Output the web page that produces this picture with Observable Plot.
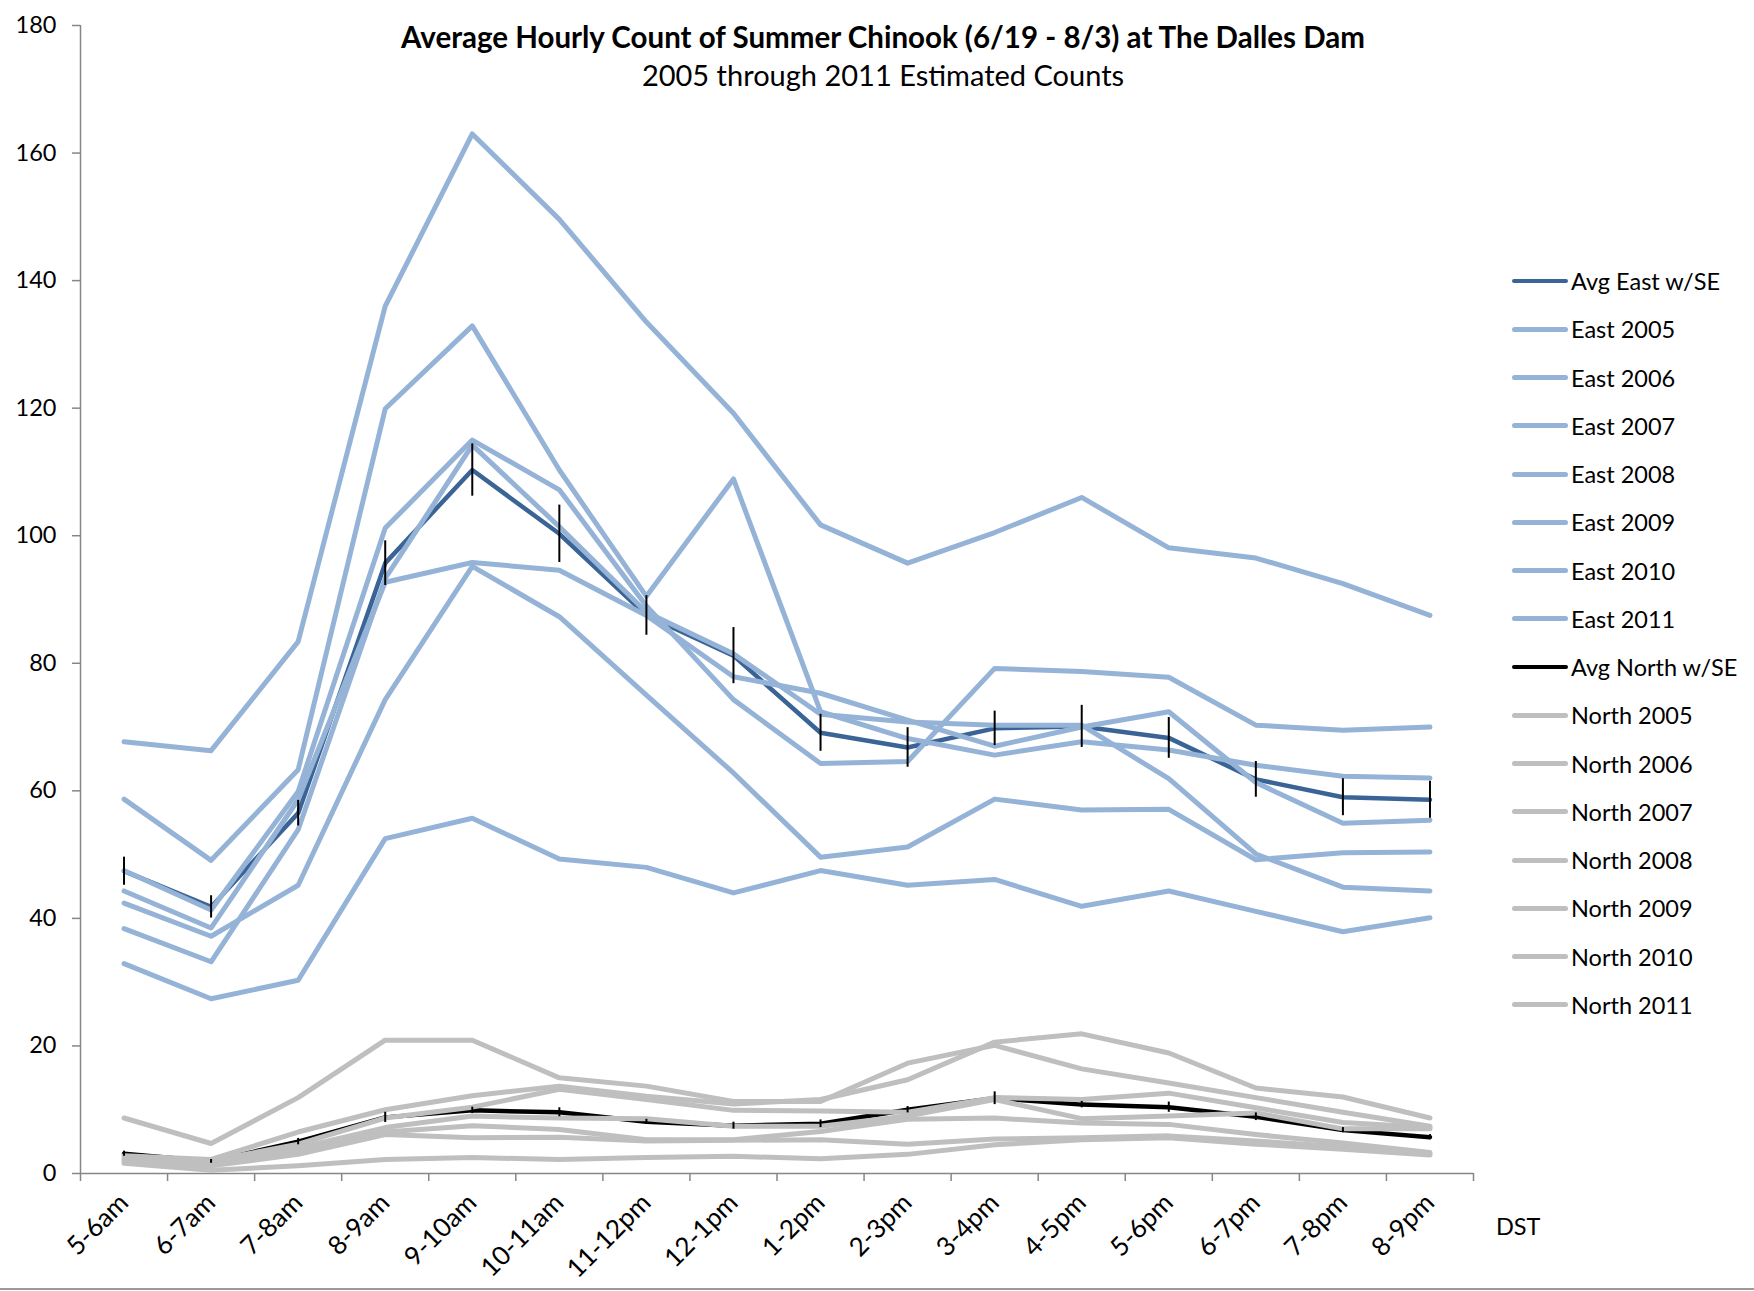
<!DOCTYPE html>
<html>
<head>
<meta charset="utf-8">
<script src="https://cdn.jsdelivr.net/npm/d3@7"></script>
<script src="https://cdn.jsdelivr.net/npm/@observablehq/plot@0.6"></script>
<style>
  html, body { margin: 0; padding: 0; background: #fff; }
  #wrap { position: relative; width: 1754px; height: 1291px; overflow: hidden; font-family: Lato, "Open Sans", sans-serif; }
  #title { position: absolute; left: 0; width: 1766px; top: 20px; text-align: center; font-weight: 700; font-size: 29.5px; line-height: 34px; color: #000; }
  #subtitle { position: absolute; left: 0; width: 1766px; top: 58px; text-align: center; font-weight: 400; font-size: 29px; line-height: 34px; color: #000; }
  #legend { position: absolute; left: 1512px; top: 0; }
  .lg { position: absolute; left: 0; height: 30px; width: 240px; }
  .lg .sw { position: absolute; left: 0; width: 56px; border-radius: 3px; }
  .lg .tx { position: absolute; left: 59px; top: 0; line-height: 30px; font-size: 23.5px; white-space: nowrap; color: #000; }
  #dst { position: absolute; left: 1496px; top: 1211px; font-size: 23.5px; line-height: 30px; }
  #bottomline { position: absolute; left: 0; top: 1288px; width: 1754px; height: 2px; background: #9a9a9a; }
</style>
</head>
<body>
<div id="wrap">
  <div id="chart"></div>
  <div id="title">Average Hourly Count of Summer Chinook (6/19 - 8/3) at The Dalles Dam</div>
  <div id="subtitle">2005 through 2011 Estimated Counts</div>
  <div id="legend"></div>
  <div id="dst">DST</div>
  <div id="bottomline"></div>
</div>
<script>
// ---------- data ----------
const hours = ["5-6am","6-7am","7-8am","8-9am","9-10am","10-11am","11-12pm","12-1pm","1-2pm","2-3pm","3-4pm","4-5pm","5-6pm","6-7pm","7-8pm","8-9pm"];
const yTicks = [0, 20, 40, 60, 80, 100, 120, 140, 160, 180];

const avgEast = [47.4, 41.8, 56.5, 95.7, 110.3, 100.3, 87.5, 81.2, 69.1, 66.8, 69.8, 70.1, 68.3, 61.8, 59.0, 58.6];
const seEast  = [2.2, 1.75, 2.0, 3.5, 4.1, 4.5, 3.1, 4.4, 2.9, 3.1, 2.7, 3.3, 3.2, 2.8, 2.9, 2.9];
const east2005 = [67.7, 66.3, 83.4, 136.0, 163.0, 149.6, 133.5, 119.2, 101.7, 95.7, 100.5, 106.0, 98.1, 96.5, 92.5, 87.5];
const east2006 = [58.7, 49.1, 63.3, 119.9, 132.9, 110.3, 90.5, 108.9, 72.4, 68.2, 65.6, 67.7, 66.4, 64.0, 62.3, 62.0];
const east2007 = [47.5, 41.3, 59.9, 101.2, 115.0, 107.2, 89.0, 74.3, 64.3, 64.6, 79.2, 78.7, 77.8, 70.3, 69.5, 70.0];
const east2008 = [38.4, 33.2, 53.9, 93.3, 114.2, 101.4, 88.0, 81.5, 72.0, 70.8, 70.3, 70.3, 61.9, 50.1, 44.9, 44.3];
const east2009 = [44.3, 38.5, 58.6, 92.7, 95.8, 94.6, 87.5, 77.9, 75.3, 71.1, 67.0, 70.0, 72.4, 61.3, 54.9, 55.4];
const east2010 = [42.4, 37.2, 45.2, 74.3, 95.2, 87.3, 75.0, 62.8, 49.6, 51.2, 58.7, 57.0, 57.1, 49.2, 50.3, 50.4];
const east2011 = [32.9, 27.4, 30.3, 52.5, 55.7, 49.3, 48.0, 44.0, 47.5, 45.2, 46.1, 41.9, 44.3, 41.1, 37.9, 40.1];

const avgNorth = [3.1, 1.9, 5.0, 8.8, 9.9, 9.6, 8.1, 7.5, 7.8, 10.0, 11.8, 10.8, 10.4, 8.9, 6.8, 5.7];
const seNorth  = [0.4, 0.3, 0.5, 0.8, 0.5, 0.7, 0.4, 0.55, 0.6, 0.5, 1.0, 0.5, 0.8, 0.6, 0.4, 0.4];
const north2005 = [8.7, 4.7, 11.9, 20.9, 20.9, 15.0, 13.7, 11.3, 11.3, 17.3, 20.1, 16.4, 14.2, 11.9, 9.6, 7.4];
const north2006 = [2.8, 2.2, 6.5, 10.0, 12.2, 13.7, 12.1, 10.9, 11.6, 14.7, 20.6, 21.9, 18.9, 13.4, 12.0, 8.7];
const north2007 = [2.5, 2.0, 4.6, 8.7, 10.4, 13.2, 11.6, 9.9, 9.8, 9.6, 11.9, 11.6, 12.6, 10.3, 8.0, 7.2];
const north2008 = [2.2, 1.8, 4.0, 7.2, 9.0, 8.7, 8.6, 7.4, 7.4, 9.0, 11.6, 8.6, 9.0, 9.5, 7.0, 7.0];
const north2009 = [2.0, 1.5, 3.5, 6.5, 7.5, 6.9, 5.3, 5.3, 6.6, 8.5, 8.7, 7.9, 7.7, 6.1, 4.8, 3.3];
const north2010 = [1.8, 1.2, 3.0, 6.1, 5.6, 5.7, 5.1, 5.2, 5.3, 4.6, 5.4, 5.6, 5.9, 5.1, 4.2, 3.1];
const north2011 = [1.6, 0.5, 1.2, 2.2, 2.5, 2.2, 2.5, 2.7, 2.3, 3.0, 4.5, 5.3, 5.6, 4.6, 3.8, 2.9];

const eastNames = ["East 2005","East 2006","East 2007","East 2008","East 2009","East 2010","East 2011"];
const eastSeries = [east2005, east2006, east2007, east2008, east2009, east2010, east2011];
const northNames = ["North 2005","North 2006","North 2007","North 2008","North 2009","North 2010","North 2011"];
const northSeries = [north2005, north2006, north2007, north2008, north2009, north2010, north2011];

// ---------- styles ----------
const C_AVG_EAST = "#3A6496";
const C_EAST = "#95B3D7";
const C_AVG_NORTH = "#000000";
const C_NORTH = "#BFBFBF";
const C_AXIS = "#868686";

// ---------- tables ----------
const toRows = (name, arr, se) => arr.map((v, i) => ({series: name, i, v, se: se ? se[i] : 0}));
const avgEastRows = toRows("Avg East w/SE", avgEast, seEast);
const eastRows = eastSeries.flatMap((a, k) => toRows(eastNames[k], a));
const avgNorthRows = toRows("Avg North w/SE", avgNorth, seNorth);
const northRows = northSeries.flatMap((a, k) => toRows(northNames[k], a));

const xDomain = [-0.5, hours.length - 0.5];
const boundaries = d3.range(hours.length + 1).map(k => k - 0.5);
const centers = d3.range(hours.length);

const lineOpts = {x: "i", y: "v", z: "series", strokeLinejoin: "round", strokeLinecap: "round"};

const chart = Plot.plot({
  width: 1754,
  height: 1291,
  marginLeft: 80,
  marginRight: 281,
  marginTop: 25,
  marginBottom: 118,
  style: {fontFamily: "Lato, 'Open Sans', sans-serif", fontSize: "23.5px", color: "#000", background: "transparent"},
  x: {type: "linear", domain: xDomain},
  y: {domain: [0, 180]},
  marks: [
    // axes
    Plot.axisY({ticks: yTicks, tickSize: 8, tickPadding: 16, stroke: C_AXIS, strokeWidth: 1.5, fill: "#000", label: null}),
    Plot.axisX({ticks: boundaries, tickSize: 8, tickFormat: () => "", stroke: C_AXIS, strokeWidth: 1.5, label: null}),
    Plot.axisX({ticks: centers, tickSize: 0, tickPadding: 25, tickRotate: -45, fontSize: 26, tickFormat: i => hours[i], fill: "#000", label: null}),
    Plot.ruleX([xDomain[0]], {stroke: C_AXIS, strokeWidth: 1.5}),
    Plot.ruleY([yTicks[0]], {stroke: C_AXIS, strokeWidth: 1.5}),
    // series (drawn in spreadsheet order)
    Plot.line(avgEastRows, {...lineOpts, stroke: C_AVG_EAST, strokeWidth: 4.5}),
    Plot.line(eastRows, {...lineOpts, stroke: C_EAST, strokeWidth: 5}),
    Plot.line(avgNorthRows, {...lineOpts, stroke: C_AVG_NORTH, strokeWidth: 4.5}),
    Plot.line(northRows, {...lineOpts, stroke: C_NORTH, strokeWidth: 5}),
    // error bars
    Plot.ruleX(avgEastRows, {x: "i", y1: d => d.v - d.se, y2: d => d.v + d.se, stroke: "#000", strokeWidth: 2}),
    Plot.ruleX(avgNorthRows, {x: "i", y1: d => d.v - d.se, y2: d => d.v + d.se, stroke: "#000", strokeWidth: 2})
  ]
});
document.getElementById("chart").appendChild(chart);

// ---------- legend ----------
const legendItems = [
  {name: "Avg East w/SE", color: C_AVG_EAST, w: 4},
  ...eastNames.map(n => ({name: n, color: C_EAST, w: 5})),
  {name: "Avg North w/SE", color: C_AVG_NORTH, w: 4},
  ...northNames.map(n => ({name: n, color: C_NORTH, w: 5}))
];
const legend = document.getElementById("legend");
legendItems.forEach((it, k) => {
  const cy = 281 + k * 48.25;
  const row = document.createElement("div");
  row.className = "lg";
  row.style.top = (cy - 15) + "px";
  const sw = document.createElement("div");
  sw.className = "sw";
  sw.style.height = it.w + "px";
  sw.style.top = (15 - it.w / 2) + "px";
  sw.style.background = it.color;
  const tx = document.createElement("div");
  tx.className = "tx";
  tx.textContent = it.name;
  row.appendChild(sw);
  row.appendChild(tx);
  legend.appendChild(row);
});
</script>
</body>
</html>
